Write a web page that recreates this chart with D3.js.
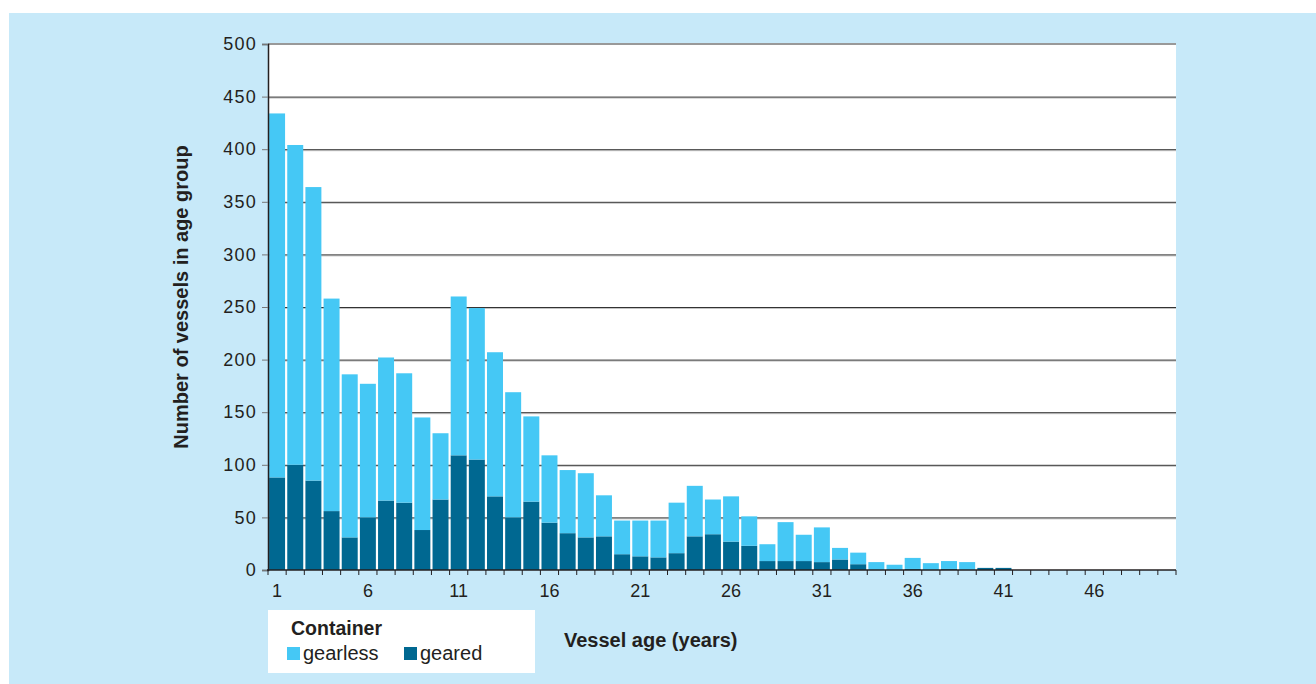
<!DOCTYPE html>
<html>
<head>
<meta charset="utf-8">
<script src="https://cdn.jsdelivr.net/npm/d3@7"></script>
<style>
  body { margin: 0; background: #fff; }
  text { font-family: "Liberation Sans", Arial, Helvetica, sans-serif; fill: #231f20; }
</style>
</head>
<body>
<div id="chart"></div>
<script>
// Vessel age distribution, container ships, geared vs gearless
const ages = d3.range(1, 51);

const geared = [88, 100, 85, 56, 31, 50, 66, 64, 38, 67,
                109, 105, 70, 50, 65, 45, 35, 31, 32, 15,
                13, 12, 16, 32, 34, 27, 23, 8.5, 8.5, 8.5,
                7.5, 10, 5.5, 0, 0, 1, 0, 1, 0, 2,
                2, 0, 0, 0, 0, 0, 0, 0, 0, 0];

const gearless = [346, 304, 279, 202, 155, 127, 136, 123, 107, 63,
                  151, 144, 137, 119, 81, 64, 60, 61, 39, 32,
                  34, 35, 48, 48, 33, 43, 28, 16, 37, 25,
                  33, 11, 11, 7.5, 5, 10.5, 6.5, 7.5, 7.5, 0,
                  0, 0, 0, 0, 0, 0, 0, 0, 0, 0];

const seriesKeys = ["geared", "gearless"];
const seriesLabels = { geared: "geared", gearless: "gearless" };
const xTickLabels = [1, 6, 11, 16, 21, 26, 31, 36, 41, 46];
const yTicks = d3.range(0, 501, 50);

const colors = { gearless: "#45c8f5", geared: "#006891" };

const width = 1316, height = 684;
const plot = { left: 268, right: 1176, top: 44, bottom: 570 };

const svg = d3.select("#chart").append("svg")
    .attr("width", width)
    .attr("height", height);

// light blue panel
svg.append("rect")
    .attr("x", 9).attr("y", 13)
    .attr("width", width - 9).attr("height", height - 13)
    .attr("fill", "#c7e9f9");

// white plot area
svg.append("rect")
    .attr("x", plot.left).attr("y", plot.top)
    .attr("width", plot.right - plot.left).attr("height", plot.bottom - plot.top)
    .attr("fill", "#fff");

const x = d3.scaleBand()
    .domain(ages)
    .range([plot.left, plot.right])
    .paddingInner(0.12)
    .paddingOuter(0.06);

const y = d3.scaleLinear()
    .domain([0, 500])
    .range([plot.bottom, plot.top]);

// gridlines (dark line with a soft shadow under it)
const grid = svg.append("g").attr("class", "grid");
yTicks.filter(v => v > 0 && v < 500).forEach(v => {
    grid.append("line")
        .attr("x1", plot.left).attr("x2", plot.right)
        .attr("y1", y(v) + 1.5).attr("y2", y(v) + 1.5)
        .attr("stroke", "#c4c4c4").attr("stroke-width", 1);
    grid.append("line")
        .attr("x1", plot.left).attr("x2", plot.right)
        .attr("y1", y(v) + 0.5).attr("y2", y(v) + 0.5)
        .attr("stroke", "#333").attr("stroke-width", 1);
});
grid.append("line")
    .attr("x1", plot.left).attr("x2", plot.right)
    .attr("y1", y(500)).attr("y2", y(500))
    .attr("stroke", "#999").attr("stroke-width", 2);

// stacked bars
const rows = ages.map((a, i) => ({ age: a, geared: geared[i], gearless: gearless[i] }));
const stacked = d3.stack().keys(seriesKeys)(rows);

svg.append("g").selectAll("g")
    .data(stacked)
    .join("g")
    .attr("fill", d => colors[d.key])
    .selectAll("rect")
    .data(d => d)
    .join("rect")
    .attr("x", d => x(d.data.age))
    .attr("width", x.bandwidth())
    .attr("y", d => y(d[1]))
    .attr("height", d => y(d[0]) - y(d[1]));

// y axis
const yAxis = svg.append("g")
    .attr("transform", `translate(${plot.left},0)`)
    .call(d3.axisLeft(y).tickValues(yTicks).tickSize(6).tickPadding(5));
yAxis.select(".domain").attr("stroke", "#231f20").attr("stroke-width", 1.5);
yAxis.selectAll(".tick line").attr("stroke", "#777");
yAxis.selectAll("text")
    .style("font-size", "18px")
    .style("letter-spacing", "1.2px")
    .attr("fill", "#231f20");

// x axis: labels centred on bars, ticks on band boundaries
const xAxis = svg.append("g")
    .attr("transform", `translate(0,${plot.bottom})`)
    .call(d3.axisBottom(x).tickValues(xTickLabels).tickSize(0).tickPadding(14));
xAxis.select(".domain").remove();
xAxis.selectAll("text")
    .style("font-size", "18px")
    .attr("fill", "#231f20");

const half = x.step() * x.paddingInner() / 2;
const bounds = ages.map(a => x(a) - half).concat([plot.right]);
svg.append("g").selectAll("line")
    .data(bounds)
    .join("line")
    .attr("x1", d => d).attr("x2", d => d)
    .attr("y1", plot.bottom).attr("y2", plot.bottom + 5)
    .attr("stroke", "#231f20").attr("stroke-width", 1);
svg.append("line")
    .attr("x1", plot.left - 1).attr("x2", plot.right)
    .attr("y1", plot.bottom).attr("y2", plot.bottom)
    .attr("stroke", "#231f20").attr("stroke-width", 1.5);

// axis titles
svg.append("text")
    .attr("transform", "translate(188,297) rotate(-90)")
    .attr("text-anchor", "middle")
    .style("font-size", "20px")
    .style("font-weight", "bold")
    .text("Number of vessels in age group");

svg.append("text")
    .attr("x", 564).attr("y", 647)
    .style("font-size", "20px")
    .style("font-weight", "bold")
    .text("Vessel age (years)");

// legend
const legend = svg.append("g");
legend.append("rect")
    .attr("x", 268).attr("y", 610)
    .attr("width", 267).attr("height", 63)
    .attr("fill", "#fff");
legend.append("text")
    .attr("x", 291).attr("y", 635)
    .style("font-size", "19.5px")
    .style("font-weight", "bold")
    .text("Container");

const legendItems = [
    { key: "gearless", x: 287 },
    { key: "geared", x: 404 }
];
legendItems.forEach(it => {
    legend.append("rect")
        .attr("x", it.x).attr("y", 647)
        .attr("width", 13).attr("height", 13)
        .attr("fill", colors[it.key]);
    legend.append("text")
        .attr("x", it.x + 16).attr("y", 660)
        .style("font-size", "20px")
        .text(seriesLabels[it.key]);
});
</script>
</body>
</html>
